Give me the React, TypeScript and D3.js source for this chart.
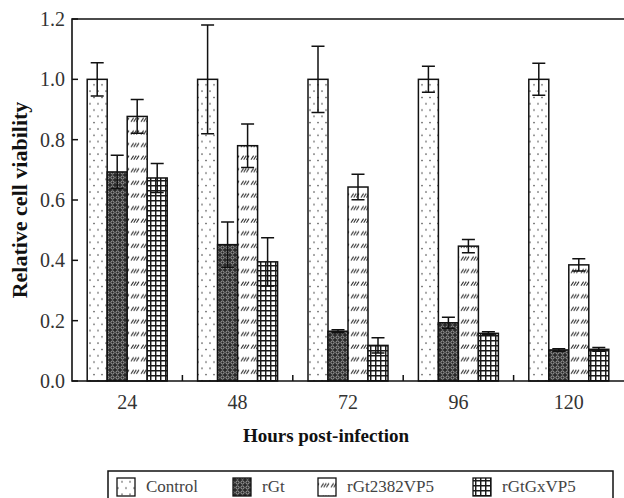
import React, { useRef, useEffect } from 'react';
import * as d3 from 'd3';

const hours = ['24', '48', '72', '96', '120'];
const seriesNames = ['Control', 'rGt', 'rGt2382VP5', 'rGtGxVP5'];

const controlValues = [1.0, 1.0, 1.0, 1.0, 1.0];
const controlErrors = [0.055, 0.18, 0.11, 0.043, 0.053];
const rGtValues = [0.693, 0.452, 0.165, 0.193, 0.103];
const rGtErrors = [0.055, 0.075, 0.005, 0.018, 0.004];
const rGt2382Values = [0.877, 0.78, 0.643, 0.447, 0.385];
const rGt2382Errors = [0.056, 0.072, 0.042, 0.022, 0.02];
const rGtGxValues = [0.673, 0.395, 0.118, 0.158, 0.105];
const rGtGxErrors = [0.048, 0.08, 0.025, 0.005, 0.006];

const yTicks = [0, 0.2, 0.4, 0.6, 0.8, 1.0, 1.2];

const App = () => {
  const ref = useRef(null);

  useEffect(() => {
    document.body.style.margin = '0';
    const svg = d3.select(ref.current);
    svg.selectAll('*').remove();

    const width = 624;
    const height = 498;
    const font = '"Liberation Serif", "Times New Roman", serif';
    const left = 72, right = 624, top = 19, bottom = 381;

    // patterns
    const defs = svg.append('defs');
    const dots = defs.append('pattern').attr('id', 'p-dots')
      .attr('patternUnits', 'userSpaceOnUse').attr('width', 8).attr('height', 12.6);
    dots.append('rect').attr('width', 8).attr('height', 12.6).attr('fill', '#fff');
    dots.append('circle').attr('cx', 2).attr('cy', 3).attr('r', 0.8).attr('fill', '#444');
    dots.append('circle').attr('cx', 6).attr('cy', 9.3).attr('r', 0.8).attr('fill', '#444');

    const mesh = defs.append('pattern').attr('id', 'p-mesh')
      .attr('patternUnits', 'userSpaceOnUse').attr('width', 5).attr('height', 5);
    mesh.append('rect').attr('width', 5).attr('height', 5).attr('fill', '#2a2a2a');
    mesh.append('circle').attr('cx', 2.5).attr('cy', 2.5).attr('r', 1.6)
      .attr('fill', 'none').attr('stroke', '#bbb').attr('stroke-width', 0.8);

    const slash = defs.append('pattern').attr('id', 'p-slash')
      .attr('patternUnits', 'userSpaceOnUse').attr('width', 10).attr('height', 12.6);
    slash.append('rect').attr('width', 10).attr('height', 12.6).attr('fill', '#fff');
    [1, 3.7, 6.4].forEach(x => {
      slash.append('line').attr('x1', x).attr('y1', 8.5).attr('x2', x + 2.6).attr('y2', 4.5)
        .attr('stroke', '#333').attr('stroke-width', 1.1);
    });

    const grid = defs.append('pattern').attr('id', 'p-grid')
      .attr('patternUnits', 'userSpaceOnUse').attr('width', 5).attr('height', 5);
    grid.append('rect').attr('width', 5).attr('height', 5).attr('fill', '#fff');
    grid.append('path').attr('d', 'M0,0.7H5M0.7,0V5').attr('stroke', '#1a1a1a').attr('stroke-width', 1.5);

    const fills = ['url(#p-dots)', 'url(#p-mesh)', 'url(#p-slash)', 'url(#p-grid)'];
    const values = [controlValues, rGtValues, rGt2382Values, rGtGxValues];
    const errors = [controlErrors, rGtErrors, rGt2382Errors, rGtGxErrors];

    const x = d3.scaleBand().domain(hours).range([left, right]).padding(0);
    const inner = d3.scaleBand().domain(seriesNames).range([-40, 40]).padding(0);
    const y = d3.scaleLinear().domain([0, 1.2]).range([bottom, top]);

    // bars
    seriesNames.forEach((name, s) => {
      const g = svg.append('g');
      hours.forEach((h, i) => {
        const cx = x(h) + x.bandwidth() / 2;
        const x0 = cx + inner(name);
        g.append('rect')
          .attr('x', x0).attr('y', y(values[s][i]))
          .attr('width', inner.bandwidth()).attr('height', y(0) - y(values[s][i]))
          .attr('fill', fills[s]).attr('stroke', '#111').attr('stroke-width', 1.5);
      });
    });

    // error bars
    seriesNames.forEach((name, s) => {
      hours.forEach((h, i) => {
        const bx = x(h) + x.bandwidth() / 2 + inner(name) + inner.bandwidth() / 2;
        const v = values[s][i], e = errors[s][i];
        const hi = y(v + e), lo = y(v - e);
        const path = d3.path();
        path.moveTo(bx, hi); path.lineTo(bx, lo);
        path.moveTo(bx - 6.5, hi); path.lineTo(bx + 6.5, hi);
        path.moveTo(bx - 6.5, lo); path.lineTo(bx + 6.5, lo);
        svg.append('path').attr('d', path.toString())
          .attr('fill', 'none').attr('stroke', '#111').attr('stroke-width', 1.5);
      });
    });

    // frame: left axis, bottom axis, top line
    svg.append('path')
      .attr('d', `M${right + 2},${top}H${left}V${bottom}H${right + 2}`)
      .attr('fill', 'none').attr('stroke', '#111').attr('stroke-width', 1.6);

    // y ticks
    const yAxis = svg.append('g').attr('font-family', font);
    yTicks.forEach(t => {
      yAxis.append('line').attr('x1', left).attr('x2', left + 6)
        .attr('y1', y(t)).attr('y2', y(t)).attr('stroke', '#111').attr('stroke-width', 1.5);
      yAxis.append('text').attr('x', left - 7).attr('y', y(t))
        .attr('dy', '0.35em').attr('text-anchor', 'end')
        .attr('font-size', 20).attr('fill', '#333').text(d3.format('.1f')(t));
    });

    // x ticks between groups
    hours.slice(1).forEach(h => {
      svg.append('line').attr('x1', x(h)).attr('x2', x(h))
        .attr('y1', bottom).attr('y2', bottom - 6)
        .attr('stroke', '#111').attr('stroke-width', 1.5);
    });
    hours.forEach(h => {
      svg.append('text').attr('x', x(h) + x.bandwidth() / 2).attr('y', 409)
        .attr('text-anchor', 'middle').attr('font-family', font)
        .attr('font-size', 20).attr('fill', '#333').text(h);
    });

    // axis titles
    svg.append('text').attr('x', 326).attr('y', 442)
      .attr('text-anchor', 'middle').attr('font-family', font)
      .attr('font-weight', 'bold').attr('font-size', 19).attr('fill', '#111')
      .text('Hours post-infection');
    svg.append('text')
      .attr('transform', `translate(27,${(top + bottom) / 2}) rotate(-90)`)
      .attr('text-anchor', 'middle').attr('font-family', font)
      .attr('font-weight', 'bold').attr('font-size', 22).attr('fill', '#111')
      .text('Relative cell viability');

    // legend
    const legend = svg.append('g');
    legend.append('rect').attr('x', 108).attr('y', 471).attr('width', 505).attr('height', 30)
      .attr('fill', 'none').attr('stroke', '#111').attr('stroke-width', 1.5);
    const legendX = [117, 233, 318, 473];
    seriesNames.forEach((name, s) => {
      legend.append('rect').attr('x', legendX[s]).attr('y', 478).attr('width', 18).attr('height', 18)
        .attr('fill', fills[s]).attr('stroke', '#111').attr('stroke-width', 1.3);
      legend.append('text').attr('x', legendX[s] + 29).attr('y', 492)
        .attr('font-family', font).attr('font-size', 17).attr('fill', '#444').text(name);
    });

    svg.attr('width', width).attr('height', height);
  }, []);

  return (
    <svg ref={ref} width={624} height={498} style={{ display: 'block', background: '#fff' }} />
  );
};

export default App;
